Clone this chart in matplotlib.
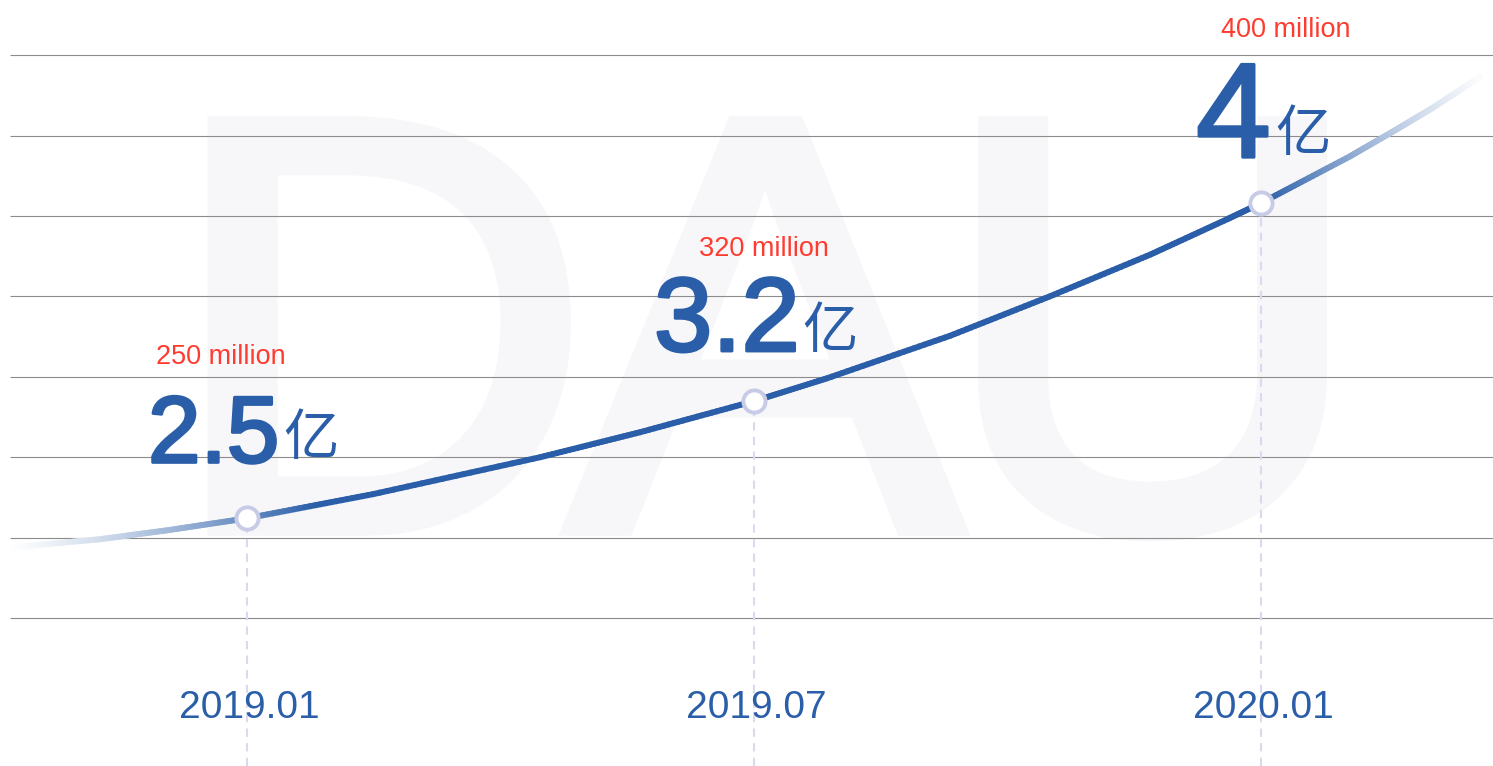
import numpy as np
import matplotlib.pyplot as plt
import matplotlib.patheffects as pe
from matplotlib.collections import LineCollection

# values
dates = ['2019.01', '2019.07', '2020.01']
months = [0, 6, 12]
dau_yi = ['2.5', '3.2', '4']
dau_en = ['250 million', '320 million', '400 million']
dot_level = [1.24, 2.70, 5.16]

# decorative growth curve (x in months from 2019.01, y in grid rows)
curve_m = [-2.77, -1.74, -0.95, 0.0, 1.49, 3.47, 4.65, 6.01, 6.86, 8.32,
           9.50, 10.69, 11.60, 12.00, 13.05, 13.56, 14.04, 14.59]
curve_level = [0.88, 0.98, 1.09, 1.24, 1.54, 2.00, 2.31, 2.70, 2.98, 3.51,
               4.00, 4.52, 4.96, 5.16, 5.74, 6.05, 6.35, 6.73]
grid_levels = [0, 1, 2, 3, 4, 5, 6, 7]

BLUE = '#2a5ea8'
RED = '#ff3b30'
plt.rcParams['lines.scale_dashes'] = False


def main():
    fig = plt.figure(figsize=(14.93, 7.66), dpi=100)
    ax = fig.add_axes([0, 0, 1, 1])
    ax.axis('off')
    ax.set_xlim(-247 / 84.5, (1493 - 247) / 84.5)
    ax.set_ylim((618 - 766) / 80.4, 618 / 80.4)
    y0 = ax.get_ylim()[0]

    # watermark
    wm = '#f7f7fa'
    for ch, xc in zip('DAU', [0.254, 0.512, 0.772]):
        ax.text(xc, 1 - 528 / 766, ch, transform=ax.transAxes, ha='center',
                va='baseline', fontsize=423, family='Liberation Sans', color=wm,
                zorder=0, path_effects=[pe.withStroke(linewidth=11, foreground=wm,
                                                      joinstyle='miter')])

    # horizontal rules
    ax.hlines(grid_levels, -2.80, ax.get_xlim()[1], color='#8c8c8c', lw=0.8, zorder=1)

    # dashed drop lines
    for m, lv in zip(months, dot_level):
        ax.plot([m, m], [y0, lv], color='#d8dbef', lw=1.5, ls=(0, (6, 4.5)), zorder=2)

    # curve with faded ends (blended toward white so the pieces join cleanly)
    xs = np.array(curve_m)
    ys = np.array(curve_level)
    blue = np.array([0.165, 0.369, 0.659])
    segs = []
    cols = []
    for i in range(len(xs) - 1):
        t = np.linspace(0, 1, 25)
        px = xs[i] + (xs[i + 1] - xs[i]) * t
        py = ys[i] + (ys[i + 1] - ys[i]) * t
        for j in range(len(t) - 1):
            segs.append([(px[j], py[j]), (px[j + 1], py[j + 1])])
            mid = (px[j] + px[j + 1]) / 2
            a = min(np.clip((mid + 2.85) / 3.7, 0, 1), np.clip((14.75 - mid) / 2.7, 0, 1))
            a = a ** 1.3
            cols.append(tuple(a * blue + (1 - a) * np.ones(3)))
    lc = LineCollection(segs, colors=cols, linewidths=4.3, capstyle='round', zorder=3)
    ax.add_collection(lc)

    ax.plot(months, dot_level, 'o', ms=16, mfc='white', mec='#c8cbe6', mew=2.8, zorder=5)

    # labels
    num_size = [68, 75.5, 97]
    num_off = [(-99, 56), (-100, 50), (-65, 46)]
    yi_off = [(36, 63), (48, 53), (14, 52)]
    en_off = [(-26, 154), (10, 145), (25, 166)]
    thick = [pe.withStroke(linewidth=2.2, foreground=BLUE)]
    for i in range(3):
        xy = (months[i], dot_level[i])
        ax.annotate(dau_yi[i], xy=xy, xytext=num_off[i], textcoords='offset pixels',
                    ha='left', va='baseline', fontsize=num_size[i],
                    family='Liberation Sans', color=BLUE, zorder=6, path_effects=thick)
        ax.annotate('亿', xy=xy, xytext=yi_off[i], textcoords='offset pixels',
                    ha='left', va='baseline', fontsize=40,
                    family=['Noto Sans CJK SC', 'DejaVu Sans'], color=BLUE, zorder=6)
        ax.annotate(dau_en[i], xy=xy, xytext=en_off[i], textcoords='offset pixels',
                    ha='center', va='baseline', fontsize=19.5,
                    family='Liberation Sans', color=RED, zorder=6)
        ax.text(months[i] + 0.03, (618 - 718) / 80.4, dates[i], ha='center', va='baseline',
                fontsize=28, family='Liberation Sans', color=BLUE, zorder=6)

    fig.savefig('out.png', dpi=100, facecolor='white')


if __name__ == '__main__':
    main()
